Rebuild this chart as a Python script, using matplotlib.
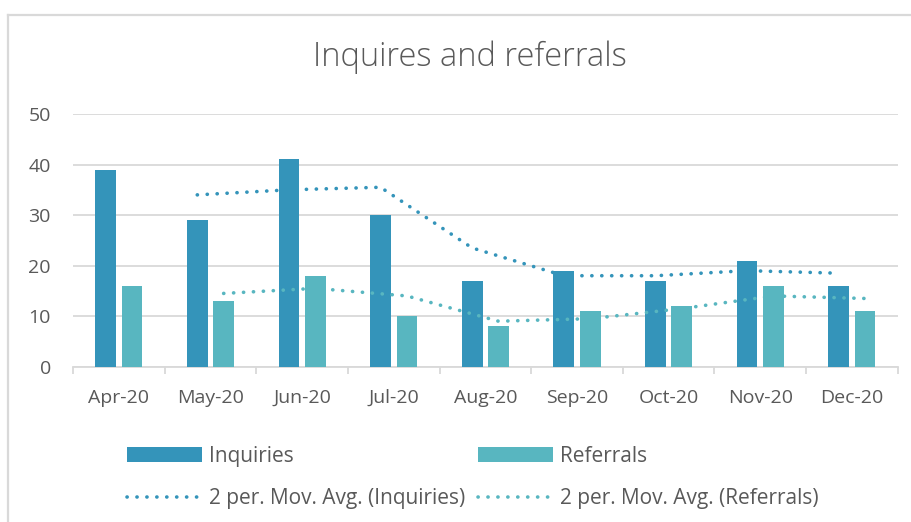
import matplotlib
matplotlib.use("Agg")
import matplotlib.pyplot as plt
from matplotlib.lines import Line2D
import numpy as np

plt.rcParams['font.family'] = ['Open Sans', 'DejaVu Sans']

months = ["Apr-20", "May-20", "Jun-20", "Jul-20", "Aug-20", "Sep-20", "Oct-20", "Nov-20", "Dec-20"]
inquiries = [39, 29, 41, 30, 17, 19, 17, 21, 16]
referrals = [16, 13, 18, 10, 8, 11, 12, 16, 11]
# 2-period moving averages (start at second month)
inquiries_ma = [34, 35, 35.5, 23.5, 18, 18, 19, 18.5]
referrals_ma = [14.5, 15.5, 14, 9, 9.5, 11.5, 14, 13.5]

C_INQ = "#3494BA"
C_REF = "#58B6C0"
TXT = "#595959"
GRID = "#D9D9D9"

W, H = 912, 522
fig = plt.figure(figsize=(W / 100, H / 100), dpi=100)
ax = fig.add_axes([73 / W, 1 - 366.7 / H, (897.7 - 73) / W, (366.7 - 114) / H])

x = np.arange(len(months))
off = 0.144
bw = 0.226
b1 = ax.bar(x - off, inquiries, width=bw, color=C_INQ, label="Inquiries", zorder=3)
b2 = ax.bar(x + off, referrals, width=bw, color=C_REF, label="Referrals", zorder=3)

dot = dict(linestyle=(0, (0.05, 2.7)), linewidth=2.6, dash_capstyle='round', zorder=4)
l1, = ax.plot(x[1:] - off, inquiries_ma, color=C_INQ, label="2 per. Mov. Avg. (Inquiries)", **dot)
l2, = ax.plot(x[1:] + off, referrals_ma, color=C_REF, label="2 per. Mov. Avg. (Referrals)", **dot)

ax.set_xlim(-0.5, len(months) - 0.5)
ax.set_ylim(0, 50)
ax.set_yticks([0, 10, 20, 30, 40, 50])
ax.yaxis.grid(True, color=GRID, linewidth=1.3, zorder=0)
ax.set_axisbelow(True)
for s in ["top", "right", "left"]:
    ax.spines[s].set_visible(False)
ax.spines["bottom"].set_color(GRID)
ax.spines["bottom"].set_linewidth(1.3)

ax.set_xticks(x)
ax.set_xticklabels(months)
ax.set_xticks(np.arange(-0.5, len(months)), minor=True)
ax.tick_params(axis='x', which='major', length=0, pad=16, labelsize=14, labelcolor=TXT)
ax.tick_params(axis='x', which='minor', length=5, width=1.3, color=GRID)
ax.tick_params(axis='y', length=0, pad=16, labelsize=14, labelcolor=TXT)

fig.text(470 / W, 1 - 66 / H, "Inquires and referrals", ha='center', va='baseline',
         fontsize=23.5, color=TXT, fontweight='light')

handles = [b1, l1, b2, l2]
labels = [h.get_label() for h in handles]
leg = fig.legend(handles, labels, ncol=2, loc='upper left',
                 bbox_to_anchor=(127 / W, 1 - 446 / H), frameon=False, fontsize=15,
                 handlelength=3.6, handleheight=0.7, handletextpad=0.35, columnspacing=0.6,
                 labelspacing=1.0, borderpad=0, borderaxespad=0)
for t in leg.get_texts():
    t.set_color(TXT)

# chart border (left and top)
fig.add_artist(Line2D([8.5 / W, 8.5 / W], [0, 1 - 14.5 / H], transform=fig.transFigure,
                      color=GRID, linewidth=1.6))
fig.add_artist(Line2D([8.5 / W, 1], [1 - 14.5 / H, 1 - 14.5 / H], transform=fig.transFigure,
                      color=GRID, linewidth=1.6))

fig.savefig("out.png", dpi=100)
